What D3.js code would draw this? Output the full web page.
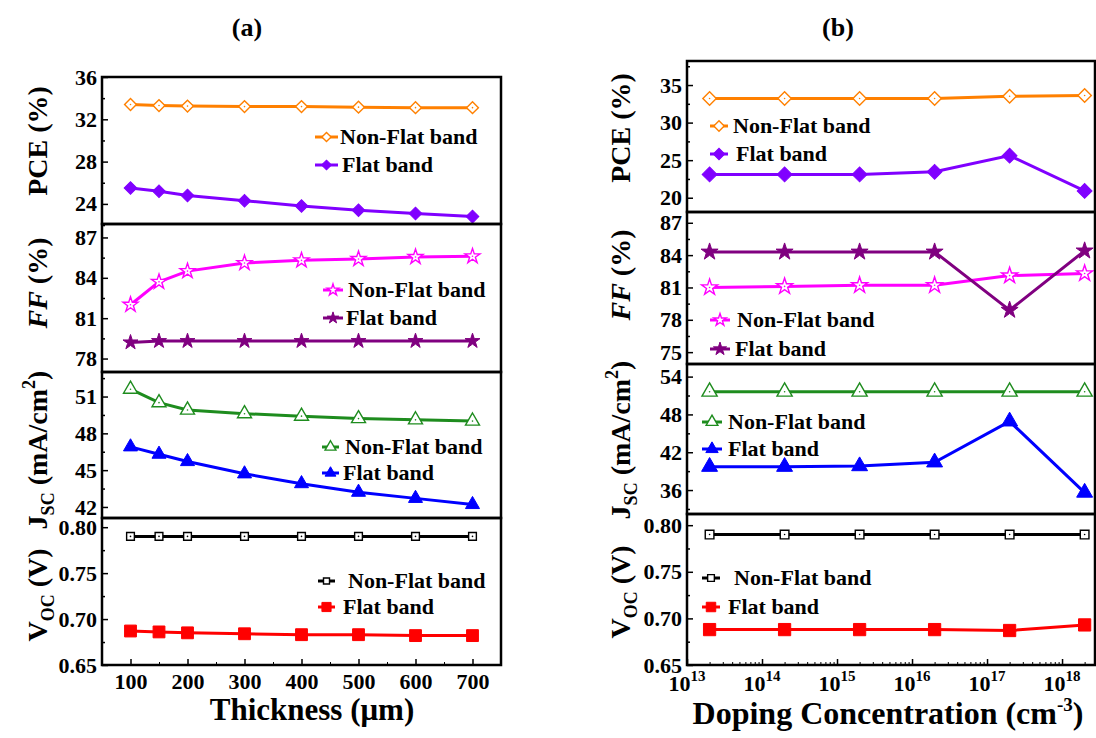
<!DOCTYPE html>
<html>
<head>
<meta charset="utf-8">
<title>Flat band vs Non-Flat band</title>
<script src="https://d3js.org/d3.v7.min.js"></script>
<style>
  body { margin: 0; background: #fff; }
  text { font-family: "Liberation Serif", "Times New Roman", serif; font-weight: bold; fill: #000; }
</style>
</head>
<body>
<svg width="1096" height="738"></svg>
<script>
// ---- data, panel (a): thickness sweep ----
var thickness = [100, 150, 200, 300, 400, 500, 600, 700];
var pceNonFlatA = [33.4, 33.3, 33.25, 33.2, 33.2, 33.15, 33.1, 33.1];
var pceFlatA    = [25.5, 25.2, 24.8, 24.3, 23.8, 23.4, 23.1, 22.8];
var ffNonFlatA  = [82.0, 83.7, 84.5, 85.1, 85.3, 85.4, 85.55, 85.6];
var ffFlatA     = [79.2, 79.3, 79.3, 79.3, 79.3, 79.3, 79.3, 79.3];
var jscNonFlatA = [51.6, 50.5, 49.9, 49.6, 49.4, 49.2, 49.1, 49.0];
var jscFlatA    = [46.9, 46.3, 45.7, 44.7, 43.9, 43.2, 42.7, 42.2];
var vocNonFlatA = [0.79, 0.79, 0.79, 0.79, 0.79, 0.79, 0.79, 0.79];
var vocFlatA    = [0.687, 0.686, 0.685, 0.684, 0.683, 0.683, 0.682, 0.682];

// ---- data, panel (b): doping sweep ----
var doping = [2e13, 2e14, 2e15, 2e16, 2e17, 2e18];
var pceNonFlatB = [33.2, 33.2, 33.2, 33.2, 33.5, 33.6];
var pceFlatB    = [23.1, 23.1, 23.1, 23.45, 25.6, 20.9];
var ffNonFlatB  = [81.0, 81.1, 81.2, 81.2, 82.1, 82.3];
var ffFlatB     = [84.3, 84.3, 84.3, 84.3, 78.9, 84.4];
var jscNonFlatB = [51.6, 51.6, 51.6, 51.6, 51.6, 51.6];
var jscFlatB    = [39.7, 39.7, 39.8, 40.4, 46.9, 35.6];
var vocNonFlatB = [0.79, 0.79, 0.79, 0.79, 0.79, 0.79];
var vocFlatB    = [0.688, 0.688, 0.688, 0.688, 0.687, 0.693];

// tick labels
var thicknessTicks = [100, 200, 300, 400, 500, 600, 700];
var dopingTicks = [1e13, 1e14, 1e15, 1e16, 1e17, 1e18];
var legendNames = ["Non-Flat band", "Flat band"];

var svg = d3.select("svg");

var diamond = {type: d3.symbolSquare, rot: 45};
var star = {type: d3.symbolStar, rot: 0};
var tri = {type: d3.symbolTriangle, rot: 0};
var square = {type: d3.symbolSquare, rot: 0};

function pair(a, b, colA, colB, shape, sizeA, sizeB) {
  return [
    {vals: a, color: colA, shape: shape, hollow: true, size: sizeA},
    {vals: b, color: colB, shape: shape, hollow: false, size: sizeB}
  ];
}

var panels = [
  {
    label: "(a)", labelX: 247, xs: thickness,
    x: d3.scaleLinear().domain([50, 750]).range([102, 501]),
    titleX: 37,
    rows: [
      {top: 77, bottom: 224, domain: [22.1, 36], ticks: [24, 28, 32, 36], minor: [22, 26, 30, 34], fmt: "d",
       title: "pce", titleY: 141, series: pair(pceNonFlatA, pceFlatA, "#ff8000", "#8000ff", diamond, 70, 80),
       leg: {lx: 315, lw: 23, ly: [137, 165], tx: [340, 342]}},
      {top: 224, bottom: 372, domain: [77, 88], ticks: [78, 81, 84, 87], minor: [79.5, 82.5, 85.5], fmt: "d",
       title: "ff", titleY: 283, series: pair(ffNonFlatA, ffFlatA, "#ff00ff", "#800080", star, 70, 70),
       leg: {lx: 323, lw: 20, ly: [290, 318], tx: [348, 346]}},
      {top: 372, bottom: 518, domain: [41.1, 53], ticks: [42, 45, 48, 51], minor: [43.5, 46.5, 49.5, 52.5], fmt: "d",
       title: "jsc", titleY: 450, series: pair(jscNonFlatA, jscFlatA, "#1e8c1e", "#0000ff", tri, 85, 85),
       leg: {lx: 322, lw: 17, ly: [447, 473], tx: [345, 343]}},
      {top: 518, bottom: 665, domain: [0.65, 0.81], ticks: [0.65, 0.70, 0.75, 0.80], minor: [0.675, 0.725, 0.775], fmt: ".2f",
       title: "voc", titleY: 595, series: pair(vocNonFlatA, vocFlatA, "#000000", "#ff0000", square, 60, 140),
       leg: {lx: 318, lw: 17, ly: [581, 607], tx: [348, 343]}}
    ]
  },
  {
    label: "(b)", labelX: 838, xs: doping,
    x: d3.scaleLog().domain([1e13, 2.75e18]).range([687, 1095]),
    titleX: 620,
    rows: [
      {top: 61, bottom: 212, domain: [18.1, 38.2], ticks: [20, 25, 30, 35], minor: [22.5, 27.5, 32.5, 37.5], fmt: "d",
       title: "pce", titleY: 128, series: pair(pceNonFlatB, pceFlatB, "#ff8000", "#8000ff", diamond, 90, 110),
       leg: {lx: 710, lw: 18, ly: [126, 154], tx: [733, 736]}},
      {top: 212, bottom: 364, domain: [73.9, 88], ticks: [75, 78, 81, 84, 87], minor: [76.5, 79.5, 82.5, 85.5], fmt: "d",
       title: "ff", titleY: 275, series: pair(ffNonFlatB, ffFlatB, "#ff00ff", "#800080", star, 80, 90),
       leg: {lx: 710, lw: 20, ly: [320, 349], tx: [737, 735]}},
      {top: 364, bottom: 514, domain: [32.2, 56], ticks: [36, 42, 48, 54], minor: [33, 39, 45, 51], fmt: "d",
       title: "jsc", titleY: 440, series: pair(jscNonFlatB, jscFlatB, "#1e8c1e", "#0000ff", tri, 100, 110),
       leg: {lx: 702, lw: 20, ly: [422, 449], tx: [728, 728]}},
      {top: 514, bottom: 665, domain: [0.65, 0.812], ticks: [0.65, 0.70, 0.75, 0.80], minor: [0.675, 0.725, 0.775], fmt: ".2f",
       title: "voc", titleY: 592, series: pair(vocNonFlatB, vocFlatB, "#000000", "#ff0000", square, 75, 150),
       leg: {lx: 702, lw: 18, ly: [578, 607], tx: [734, 728]}}
    ]
  }
];

function marker(sel, s, size) {
  sel.attr("d", d3.symbol().type(s.shape.type).size(size))
     .attr("fill", s.hollow ? "#fff" : s.color)
     .attr("stroke", s.color)
     .attr("stroke-width", s.hollow ? 1.4 : 1);
}

function yTitle(r, x) {
  var t = svg.append("text")
    .attr("transform", "translate(" + x + "," + r.titleY + ") rotate(-90)")
    .attr("text-anchor", "middle")
    .attr("dy", "0.35em")
    .attr("font-size", 28);
  if (r.title == "pce") t.text("PCE (%)");
  if (r.title == "ff") {
    t.append("tspan").attr("font-style", "italic").text("FF");
    t.append("tspan").text(" (%)");
  }
  if (r.title == "jsc") {
    t.append("tspan").text("J");
    t.append("tspan").attr("font-size", 18).attr("dy", 7).text("SC");
    t.append("tspan").attr("dy", -7).text(" (mA/cm");
    t.append("tspan").attr("font-size", 18).attr("dy", -12).text("2");
    t.append("tspan").attr("dy", 12).text(")");
  }
  if (r.title == "voc") {
    t.append("tspan").text("V");
    t.append("tspan").attr("font-size", 18).attr("dy", 7).text("OC");
    t.append("tspan").attr("dy", -7).text(" (V)");
  }
}

panels.forEach(function(P) {
  var x = P.x;
  var x0 = x.range()[0], x1 = x.range()[1];

  svg.append("text").attr("x", P.labelX).attr("y", 36).attr("text-anchor", "middle")
     .attr("font-size", 26).text(P.label);

  P.rows.forEach(function(r) {
    var y = d3.scaleLinear().domain(r.domain).range([r.bottom, r.top]);

    // y axis (ticks inside)
    var ga = svg.append("g").attr("transform", "translate(" + x0 + ",0)")
      .call(d3.axisLeft(y).tickValues(r.ticks).tickSize(-6).tickPadding(5).tickFormat(d3.format(r.fmt)));
    ga.select(".domain").remove();
    ga.selectAll("line").attr("stroke-width", 1.5);
    ga.selectAll("text").attr("font-size", 22).attr("font-family", null);
    var gm = svg.append("g").attr("transform", "translate(" + x0 + ",0)")
      .call(d3.axisLeft(y).tickValues(r.minor).tickSize(-3).tickFormat(""));
    gm.select(".domain").remove();
    gm.selectAll("line").attr("stroke-width", 1.5);

    yTitle(r, P.titleX);

    var line = d3.line().x(function(d, i) { return x(P.xs[i]); }).y(function(d) { return y(d); });

    r.series.forEach(function(s, k) {
      svg.append("path").datum(s.vals)
        .attr("d", line).attr("fill", "none")
        .attr("stroke", s.color).attr("stroke-width", 3);
      var gp = svg.append("g");
      gp.selectAll("path").data(s.vals).enter().append("path")
        .attr("transform", function(d, i) {
          return "translate(" + x(P.xs[i]) + "," + y(d) + ") rotate(" + s.shape.rot + ")";
        })
        .call(marker, s, s.size);
      if (s.hollow) {
        // small centre dot, as in the original markers
        gp.selectAll("circle").data(s.vals).enter().append("circle")
          .attr("cx", function(d, i) { return x(P.xs[i]); })
          .attr("cy", function(d) { return y(d); })
          .attr("r", 0.8).attr("fill", s.color);
      }

      // legend
      var ly = r.leg.ly[k];
      svg.append("line").attr("x1", r.leg.lx).attr("x2", r.leg.lx + r.leg.lw)
        .attr("y1", ly).attr("y2", ly).attr("stroke", s.color).attr("stroke-width", 3);
      svg.append("path")
        .attr("transform", "translate(" + (r.leg.lx + r.leg.lw / 2) + "," + ly + ") rotate(" + s.shape.rot + ")")
        .call(marker, s, s.size * 0.6);
      svg.append("text").attr("x", r.leg.tx[k]).attr("y", ly).attr("dy", "0.33em")
        .attr("font-size", 22).text(legendNames[k]);
    });

    svg.append("rect").attr("x", x0).attr("y", r.top)
      .attr("width", x1 - x0).attr("height", r.bottom - r.top)
      .attr("fill", "none").attr("stroke", "#000").attr("stroke-width", 2.5);
  });

  // x axis
  var yb = P.rows[P.rows.length - 1].bottom;
  var gx = svg.append("g").attr("transform", "translate(0," + yb + ")");
  if (P.label == "(a)") {
    gx.call(d3.axisBottom(x).tickValues(thicknessTicks).tickSize(-6).tickPadding(8));
    gx.selectAll("text").attr("font-size", 22).attr("font-family", null);
    var gxm = svg.append("g").attr("transform", "translate(0," + yb + ")")
      .call(d3.axisBottom(x).tickValues([150, 250, 350, 450, 550, 650]).tickSize(-3).tickFormat(""));
    gxm.select(".domain").remove();
    svg.append("text").attr("x", 312).attr("y", 720).attr("text-anchor", "middle")
      .attr("font-size", 31).text("Thickness (\u03bcm)");
  } else {
    gx.call(d3.axisBottom(x).tickValues(dopingTicks).tickSize(-6).tickFormat(""));
    var minors = [];
    dopingTicks.forEach(function(d) {
      for (var k = 2; k < 10; k++) if (d * k <= x.domain()[1]) minors.push(d * k);
    });
    var gxm2 = svg.append("g").attr("transform", "translate(0," + yb + ")")
      .call(d3.axisBottom(x).tickValues(minors).tickSize(-3).tickFormat(""));
    gxm2.select(".domain").remove();
    dopingTicks.forEach(function(d) {
      var t = svg.append("text").attr("x", x(d)).attr("y", 691).attr("text-anchor", "middle").attr("font-size", 22);
      t.append("tspan").text("10");
      t.append("tspan").attr("font-size", 15).attr("dy", -10).text(Math.round(Math.log10(d)));
    });
    var tt = svg.append("text").attr("x", 888).attr("y", 724).attr("text-anchor", "middle").attr("font-size", 32);
    tt.append("tspan").text("Doping Concentration (cm");
    tt.append("tspan").attr("font-size", 19).attr("dy", -13).text("-3");
    tt.append("tspan").attr("dy", 13).text(")");
  }
  gx.select(".domain").remove();
  gx.selectAll("line").attr("stroke-width", 1.5);
});
</script>
</body>
</html>
